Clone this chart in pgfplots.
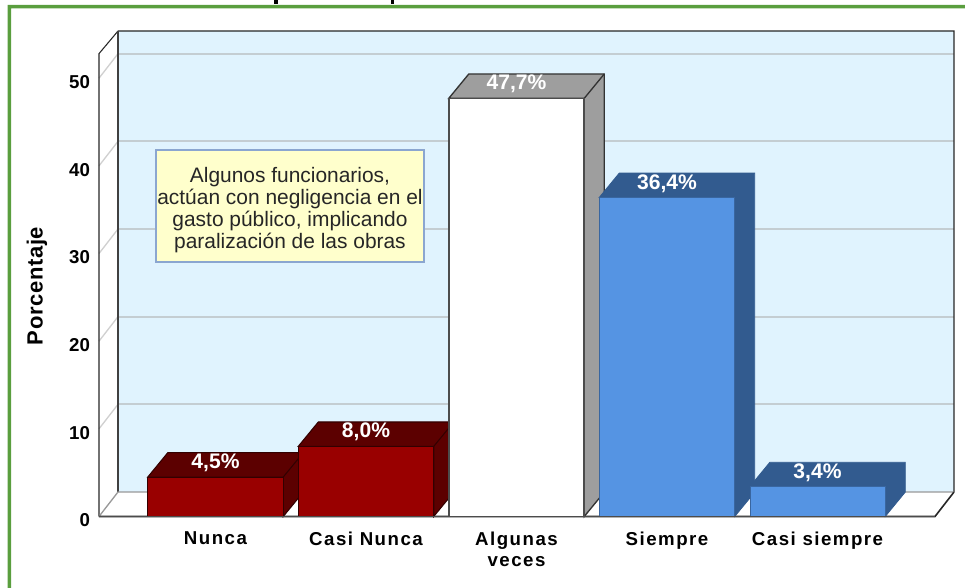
\documentclass[border=0pt]{standalone}
\usepackage{pgfplots}
\pgfplotsset{compat=1.18}
\usepackage{fontspec}
\setmainfont{Liberation Sans}
\newfontfamily\spaced[LetterSpace=8]{Liberation Sans}
\newfontfamily\spacedy[LetterSpace=3]{Liberation Sans}
\definecolor{wall}{HTML}{E0F3FE}
\definecolor{gridc}{HTML}{C4CDD2}
\definecolor{sidegrid}{HTML}{D0D0D0}
\definecolor{frame}{HTML}{5A9E3E}
\definecolor{redf}{HTML}{990000}
\definecolor{redd}{HTML}{5C0000}
\definecolor{greyd}{HTML}{9E9E9E}
\definecolor{bluef}{HTML}{5594E3}
\definecolor{blued}{HTML}{325B8F}
\definecolor{note}{HTML}{FFFFCC}
\definecolor{noteb}{HTML}{8BA6D0}
\begin{document}
\begin{tikzpicture}[x=1pt,y=1pt]
\path[use as bounding box] (0,0) rectangle (723.75,441);
\begin{axis}[
  at={(0,0)},anchor=south west,
  scale only axis,width=723.75pt,height=441pt,
  xmin=-1.43189,xmax=4.98007,ymin=-8.156,ymax=58.92,
  axis line style={draw=none},
  major tick length=0pt,
  clip=true,
  xtick={0,1,2,3,4},
  xticklabels={Nunca,Casi Nunca,{Algunas\\veces},Siempre,Casi siempre},
  ytick={0,10,20,30,40,50},
  /pgf/number format/assume math mode=true,
  tick label style={font=\fontsize{14pt}{15.8pt}\selectfont\bfseries},
  x tick label style={font=\fontsize{14pt}{15.8pt}\selectfont\spaced\bfseries,align=center,anchor=north,yshift=45.5pt},
  y tick label style={anchor=east,xshift=71pt,yshift=-3pt},
  ylabel={Porcentaje},
  ylabel style={at={(axis description cs:0.0383,0.5136)},anchor=center,font=\fontsize{16.5pt}{18pt}\selectfont\spacedy\bfseries},
  every node near coord/.append style={white,font=\fontsize{15.8pt}{17pt}\selectfont\bfseries,anchor=center,yshift=10.6pt},
  nodes near coords={\pgfmathprintnumber[use comma,fixed,fixed zerofill,precision=1]{\pgfplotspointmeta}\%},
  bar shift=0pt,bar width=101.5pt,
]
% frame and clipped title fragments
\addplot[fill=frame,draw=none,nodes near coords={}] coordinates {(-1.38205,-8.156)(-1.38205,58.35)(4.98007,58.35)(4.98007,57.97)(-1.35880,57.97)(-1.35880,-8.156)} --cycle;
\addplot[fill=black,draw=none,nodes near coords={}] coordinates {(0.39,58.92)(0.39,58.46)(0.413,58.46)(0.413,58.92)} --cycle;
\addplot[fill=black,draw=none,nodes near coords={}] coordinates {(1.163,58.92)(1.163,58.46)(1.186,58.46)(1.186,58.92)} --cycle;
% floor and left wall
\addplot[fill=white,draw=none,nodes near coords={}] coordinates {(-0.7741,0)(-0.6478,2.795)(4.907,2.795)(4.7807,0)} --cycle;
% back wall
\addplot[fill=wall,draw=none,nodes near coords={}] coordinates {(-0.6478,2.795)(-0.6478,55.38)(4.907,55.38)(4.907,2.795)} --cycle;
% grid on the back wall and on the left wall
\foreach \v/\w in {10/12.795,20/22.795,30/32.795,40/42.795,50/52.795}{
  \edef\tmp{\noexpand\addplot[draw=gridc,line width=1.5pt,nodes near coords={}] coordinates {(-0.6478,\w)(4.907,\w)};
  \noexpand\addplot[draw=sidegrid,line width=1.0pt,nodes near coords={}] coordinates {(-0.7741,\v)(-0.6478,\w)};}
  \tmp
}
% wall edges
\addplot[draw=black!85,line width=0.8pt,nodes near coords={}] coordinates {(-0.7741,0)(-0.7741,52.8)(-0.6478,55.38)(4.907,55.38)(4.907,2.795)};
\addplot[draw=black!75,line width=1.2pt,nodes near coords={}] coordinates {(-0.6478,55.38)(-0.6478,2.795)};
\addplot[draw=black!40,line width=1.0pt,nodes near coords={}] coordinates {(-0.7741,0)(-0.6478,2.795)(4.907,2.795)};
\addplot[draw=black!85,line width=1.2pt,nodes near coords={}] coordinates {(-0.7741,0)(4.7807,0)(4.907,2.795)};
% Nunca 4,5
\addplot[fill=redd,draw=black!80!red,line width=0.8pt,nodes near coords={}] coordinates {(-0.45,4.5)(-0.317,7.28)(0.583,7.28)(0.583,2.78)(0.45,0)(0.45,4.5)} --cycle;
\addplot[draw=black!80!red,line width=0.8pt,nodes near coords={}] coordinates {(0.45,4.5)(0.583,7.28)};
\addplot[ybar,fill=redf,draw=black!80!red,line width=0.8pt] coordinates {(0,4.5)};
% Casi Nunca 8,0
\addplot[fill=redd,draw=black!80!red,line width=0.8pt,nodes near coords={}] coordinates {(0.55,8.0)(0.683,10.78)(1.583,10.78)(1.583,2.78)(1.45,0)(1.45,8.0)} --cycle;
\addplot[draw=black!80!red,line width=0.8pt,nodes near coords={}] coordinates {(1.45,8.0)(1.583,10.78)};
\addplot[ybar,fill=redf,draw=black!80!red,line width=0.8pt] coordinates {(1,8.0)};
% Algunas veces 47,7
\addplot[fill=greyd,draw=black!80,line width=1.0pt,nodes near coords={}] coordinates {(1.55,47.7)(1.683,50.48)(2.583,50.48)(2.583,2.78)(2.45,0)(2.45,47.7)} --cycle;
\addplot[draw=black!80,line width=1.0pt,nodes near coords={}] coordinates {(2.45,47.7)(2.583,50.48)};
\addplot[ybar,fill=white,draw=black!70,line width=1.1pt] coordinates {(2,47.7)};
% Siempre 36,4
\addplot[fill=blued,draw=blued,line width=0.6pt,nodes near coords={}] coordinates {(2.55,36.4)(2.683,39.18)(3.583,39.18)(3.583,2.78)(3.45,0)(3.45,36.4)} --cycle;
\addplot[ybar,fill=bluef,draw=blued!80!bluef,line width=0.5pt] coordinates {(3,36.4)};
% Casi siempre 3,4
\addplot[fill=blued,draw=blued,line width=0.6pt,nodes near coords={}] coordinates {(3.55,3.4)(3.683,6.18)(4.583,6.18)(4.583,2.78)(4.45,0)(4.45,3.4)} --cycle;
\addplot[ybar,fill=bluef,draw=blued!80!bluef,line width=0.5pt] coordinates {(4,3.4)};
% front floor line over the bar feet
\addplot[draw=black!70,line width=1.0pt,nodes near coords={}] coordinates {(-0.7741,0)(4.7807,0)};
% note
\node[fill=note,draw=noteb,line width=1.1pt,minimum width=201pt,minimum height=84pt,inner sep=0pt]
  at (axis cs:0.495,35.42) {};
\node[inner sep=0pt,align=center,text=black!85,font=\fontsize{15.7pt}{16.5pt}\selectfont]
  at (axis cs:0.495,34.92) {Algunos funcionarios,\\actúan con negligencia en el\\gasto público, implicando\\paralización de las obras};
\end{axis}
\end{tikzpicture}
\end{document}
